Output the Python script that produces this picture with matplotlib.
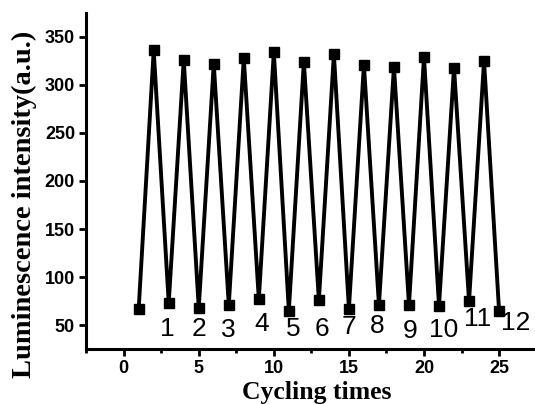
import numpy as np
import matplotlib
matplotlib.use('Agg')
from matplotlib import pyplot as plt
from matplotlib.ticker import MultipleLocator

# cycle index and luminescence readings
cycles = list(range(1, 26))
intensity = [67, 336, 73, 326, 68, 322, 71, 328, 77, 334, 65, 324, 76,
             332, 67, 321, 71, 319, 71, 329, 70, 318, 75, 325, 65]

# number labels placed under the low points
label_text = ['1', '2', '3', '4', '5', '6', '7', '8', '9', '10', '11', '12']
label_x = [2.9, 5.0, 7.0, 9.2, 11.3, 13.2, 15.0, 16.9, 19.1, 21.3, 23.6, 26.1]
label_y = [46, 46, 45, 51, 46, 46, 48, 49, 44, 45, 56, 52]

fig = plt.figure(figsize=(5.35, 4.04), dpi=100)
ax = fig.add_axes([0.161, 0.136, 0.842, 0.832])

ax.plot(cycles, intensity, color='black', linewidth=2.8, marker='s',
        markersize=7, markerfacecolor='black')

for t, x, y in zip(label_text, label_x, label_y):
    ax.text(x, y, t, fontsize=19, ha='center', va='center',
            family='Liberation Sans')

ax.set_xlim(-2.5, 27.5)
ax.set_ylim(25, 375)
ax.xaxis.set_major_locator(MultipleLocator(5))
ax.xaxis.set_minor_locator(MultipleLocator(2.5))
ax.set_yticks([50, 100, 150, 200, 250, 300, 350])

for s in ['top', 'right']:
    ax.spines[s].set_visible(False)
for s in ['left', 'bottom']:
    ax.spines[s].set_linewidth(2.2)

ax.tick_params(axis='both', which='major', length=5, width=2, direction='out',
               labelsize=13, pad=3)
ax.tick_params(axis='x', which='minor', length=3, width=2, direction='out')
for lab in ax.get_xticklabels() + ax.get_yticklabels():
    lab.set_fontweight('bold')
    lab.set_family('Liberation Sans')

ax.set_xlabel('Cycling times', fontsize=18.5, fontweight='bold',
              family='Liberation Serif')
ax.set_ylabel('Luminescence intensity(a.u.)', fontsize=20.5, fontweight='bold',
              family='Liberation Serif')
ax.xaxis.set_label_coords(0.513, -0.094)
ax.yaxis.set_label_coords(-0.138, 0.43)
ax.yaxis.label.set_va('center')

plt.savefig('out.png', dpi=100)
